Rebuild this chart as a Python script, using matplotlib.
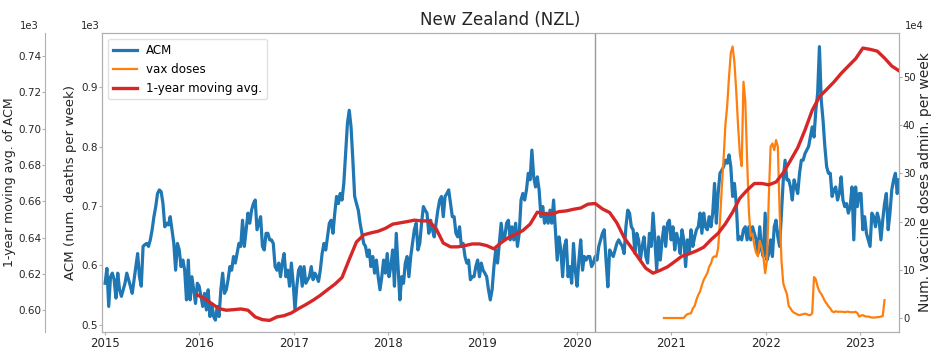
import numpy as np
import pandas as pd
import matplotlib
matplotlib.use('Agg')
import matplotlib.pyplot as plt
import matplotlib.dates as mdates
from matplotlib.ticker import MultipleLocator

# weekly all-cause mortality, New Zealand (deaths per week), from 2015-01-01
acm = [
    570, 595, 531, 581, 587, 576, 545, 587, 559, 548,
    559, 570, 587, 576, 565, 553, 576, 598, 620, 581,
    565, 632, 635, 637, 632, 643, 660, 682, 699, 721,
    727, 724, 704, 665, 671, 668, 682, 660, 637, 592,
    637, 626, 598, 609, 592, 542, 609, 542, 581, 559,
    536, 570, 565, 548, 531, 553, 525, 559, 514, 536,
    514, 508, 531, 514, 559, 587, 553, 559, 576, 598,
    592, 615, 604, 620, 637, 632, 676, 632, 660, 688,
    671, 693, 704, 710, 660, 671, 682, 632, 626, 654,
    654, 643, 643, 637, 598, 592, 604, 581, 604, 620,
    581, 592, 565, 604, 570, 525, 565, 592, 598, 565,
    598, 570, 576, 581, 598, 576, 587, 581, 573, 592,
    620, 637, 626, 648, 671, 676, 654, 688, 716, 704,
    721, 710, 738, 788, 839, 861, 833, 777, 716, 704,
    693, 671, 654, 637, 632, 615, 626, 598, 615, 587,
    609, 581, 559, 581, 609, 587, 620, 581, 598, 626,
    565, 654, 598, 542, 581, 570, 604, 615, 581, 615,
    637, 660, 671, 626, 637, 671, 699, 693, 688, 654,
    676, 660, 648, 671, 693, 710, 716, 682, 716, 721,
    727, 704, 682, 682, 654, 648, 665, 632, 637, 615,
    604, 609, 576, 581, 581, 598, 609, 581, 604, 592,
    587, 581, 559, 542, 559, 598, 626, 604, 637, 671,
    643, 648, 671, 676, 643, 665, 643, 671, 632, 654,
    710, 721, 710, 727, 755, 744, 794, 749, 732, 749,
    727, 682, 699, 671, 688, 671, 693, 671, 710, 660,
    609, 648, 626, 581, 632, 643, 581, 598, 570, 637,
    592, 565, 609, 643, 592, 615, 609, 615, 615, 598,
    604, 615, 609, 632, 643, 654, 660, 609, 564, 626,
    620, 615, 626, 637, 643, 637, 632, 620, 665, 693,
    688, 665, 660, 620, 654, 643, 609, 632, 648, 615,
    604, 654, 632, 688, 643, 592, 648, 609, 643, 665,
    632, 671, 676, 643, 665, 626, 654, 643, 620, 660,
    643, 598, 643, 620, 660, 632, 648, 660, 665, 688,
    654, 688, 665, 660, 682, 665, 688, 738, 671, 721,
    755, 760, 766, 777, 772, 786, 766, 716, 738, 704,
    643, 648, 643, 660, 665, 643, 665, 643, 665, 654,
    643, 620, 665, 626, 615, 688, 609, 620, 643, 615,
    665, 676, 648, 632, 688, 744, 777, 744, 744, 732,
    710, 744, 732, 721, 755, 777, 777, 788, 794, 800,
    816, 833, 816, 861, 889, 968, 878, 844, 800, 766,
    755, 755, 716, 727, 732, 710, 721, 749, 710, 699,
    704, 688, 699, 732, 643, 732, 699, 721, 721, 660,
    682, 654, 643, 632, 688, 682, 665, 688, 676, 643,
    676, 704, 721, 660, 688, 727, 744, 755, 721, 744,
]

# weekly vaccine doses administered (units of 1e4), from 2020-12-03
vax_doses = [
    0, 0, 0, 0, 0, 0, 0, 0, 0, 0, 0, 0,
    0.5, 0.8, 0.9, 1.0, 2.0, 2.5, 3.8, 4.8, 5.5, 6.8,
    7.9, 8.6, 9.3, 10.6, 11.3, 12.5, 12.8, 12.7, 14.5, 20,
    27, 33, 40, 44, 50, 55, 56.3, 53, 47, 40,
    34, 31.5, 49, 45, 33, 22, 17, 17.5, 15, 13.5,
    12.8, 16, 14.8, 12.7, 9.3, 12, 25, 35.5, 36.2, 34.8,
    36.9, 35.5, 22, 12, 7.2, 6, 5, 2.5, 2, 1.4,
    1.1, 0.9, 0.7, 0.6, 0.7, 0.8, 0.9, 0.8, 0.6, 0.6,
    1.0, 8.5, 8.0, 6.5, 5.5, 5.0, 4.3, 3.5, 3.0, 2.4,
    2.0, 1.4, 1.2, 1.4, 1.3, 1.3, 1.3, 1.3, 1.2, 1.3,
    1.3, 1.2, 1.2, 1.2, 1.3, 1.0, 0.3, 0.5, 0.6, 0.4,
    0.3, 0.3, 0.2, 0.1, 0.1, 0.1, 0.2, 0.2, 0.3, 0.4,
    3.7,
]

# 1-year moving average of ACM, read every 4 weeks from 2015-12-24
acm_avg = [
    608.4, 606.4, 603.6, 600.9, 600.0, 600.3, 600.7, 600.0, 596.3, 594.8,
    594.4, 596.3, 597.0, 598.5, 600.9, 603.1, 605.5, 608.2, 611.3, 614.3,
    618.0, 628.0, 637.6, 641.5, 642.6, 643.5, 645.1, 647.4, 648.1, 648.8,
    649.6, 649.2, 649.2, 645.0, 637.0, 634.9, 634.9, 635.6, 636.5, 636.5,
    635.6, 633.8, 637.2, 640.0, 641.8, 643.9, 647.4, 654.0, 653.0, 653.0,
    654.3, 654.7, 655.6, 656.3, 658.4, 658.8, 655.8, 653.8, 648.1, 640.0,
    634.5, 628.7, 623.1, 620.4, 622.0, 623.9, 626.8, 629.8, 631.1, 632.7,
    634.7, 638.8, 642.4, 647.6, 654.0, 661.7, 666.1, 669.8, 669.8, 669.1,
    670.6, 675.7, 682.5, 689.5, 699.2, 710.1, 717.6, 721.6, 725.7, 730.4,
    734.5, 738.5, 744.4, 743.7, 742.7, 738.9, 734.5, 731.9,
]

acm_dates = pd.date_range('2015-01-01', periods=len(acm), freq='7D')
vax_dates = pd.date_range('2020-12-03', periods=len(vax_doses), freq='7D')
avg_dates = pd.date_range('2015-12-24', periods=len(acm_avg), freq='28D')
pandemic_date = pd.Timestamp('2020-03-11')

grey = '#b0b0b0'
txt = '#262626'

fig = plt.figure(figsize=(9.36, 3.58), dpi=100)
ax1 = fig.add_axes([102 / 936, 1 - 332 / 358, 797 / 936, 299 / 358])
ax2 = ax1.twinx()
ax3 = ax1.twinx()

l1, = ax1.plot(acm_dates, acm, color='#1f77b4', lw=2.3, label='ACM')
l2, = ax2.plot(vax_dates, np.array(vax_doses) * 1e4, color='#ff7f0e', lw=1.6, label='vax doses')
l3, = ax3.plot(avg_dates, acm_avg, color='#d62728', lw=2.4, label='1-year moving avg.')
ax1.axvline(pandemic_date, color='#999999', lw=1.0)

ax1.set_xlim(pd.Timestamp('2014-12-20'), acm_dates[-1])
ax1.set_ylim(488, 991)
ax2.set_ylim(-2.9e4, 59.1e4)
ax3.set_ylim(588, 752.7)
ax3.yaxis.set_major_locator(MultipleLocator(20))

ax1.xaxis.set_major_locator(mdates.YearLocator())
ax1.xaxis.set_major_formatter(mdates.DateFormatter('%Y'))

ax1.ticklabel_format(axis='y', style='sci', scilimits=(3, 3))
ax2.ticklabel_format(axis='y', style='sci', scilimits=(4, 4))
ax3.ticklabel_format(axis='y', style='sci', scilimits=(3, 3))

# outer left axis for the moving average
ax3.spines['left'].set_position(('outward', 41))
ax3.spines['left'].set_visible(True)
for s in ['right', 'top', 'bottom']:
    ax3.spines[s].set_visible(False)
ax3.yaxis.set_ticks_position('left')
ax3.yaxis.set_label_position('left')

for ax in (ax1, ax2, ax3):
    for s in ax.spines.values():
        s.set_color(grey)
    ax.tick_params(colors=grey, labelcolor=txt, length=2.2, width=0.8)

ax1.tick_params(axis='x', labelsize=8.5, pad=1.5)
ax1.tick_params(axis='y', labelsize=7.5, pad=0.8)
ax2.tick_params(axis='y', labelsize=7.2, pad=0.6)
ax3.tick_params(axis='y', labelsize=7.5, pad=0.6)

ax1.set_ylabel('ACM (num. deaths per week)', fontsize=9.6, color=txt, labelpad=3)
ax2.set_ylabel('Num. vaccine doses admin. per week', fontsize=10, color=txt, labelpad=1.5)
ax3.set_ylabel('1-year moving avg. of ACM', fontsize=9, color=txt)
ax3.yaxis.set_label_coords(-0.108, 0.5)
ax1.set_title('New Zealand (NZL)', fontsize=12, color=txt)

for ax in (ax1, ax2, ax3):
    ax.yaxis.get_offset_text().set_fontsize(7.2)
    ax.yaxis.get_offset_text().set_color(txt)
ax1.yaxis.get_offset_text().set_ha('right')
ax1.yaxis.get_offset_text().set_x(-0.003)
ax3.yaxis.get_offset_text().set_ha('right')
ax3.yaxis.get_offset_text().set_x(-0.080)
ax2.yaxis.get_offset_text().set_ha('left')
ax2.yaxis.get_offset_text().set_x(1.007)

ax3.legend(handles=[l1, l2, l3], loc='upper left', fontsize=8.6, framealpha=0.9,
           edgecolor='#dddddd')

fig.savefig('out.png', dpi=100)
